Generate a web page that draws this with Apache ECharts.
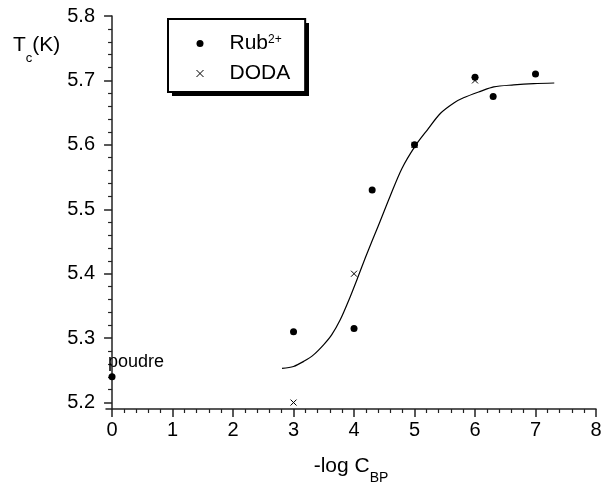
<!DOCTYPE html>
<html>
<head>
<meta charset="utf-8">
<script src="https://cdn.jsdelivr.net/npm/echarts@6/dist/echarts.min.js"></script>
<style>
  html, body { margin: 0; padding: 0; background: #fff; }
  #chart { width: 601px; height: 484px; }
</style>
</head>
<body>
<div id="chart"></div>
<script>
// Rub2+ points (filled dots)
const rubX = [0, 3, 4, 4.3, 5, 6, 6.3, 7]
const rubY = [5.24, 5.31, 5.315, 5.53, 5.6, 5.705, 5.675, 5.71]
const rubLabels = ['poudre', '', '', '', '', '', '', '']

// DODA points (crosses)
const dodaX = [3, 4, 5, 6]
const dodaY = [5.2, 5.4, 5.6, 5.7]

// fitted curve
const fitX = [2.81, 3.0, 3.17, 3.33, 3.5, 3.63, 3.77, 3.91, 4.07, 4.2, 4.4, 4.6, 4.79, 5.01, 5.21, 5.43, 5.65, 5.81, 6.09, 6.31, 6.64, 6.97, 7.31]
const fitY = [5.253, 5.256, 5.264, 5.274, 5.290, 5.305, 5.328, 5.358, 5.396, 5.428, 5.474, 5.521, 5.563, 5.598, 5.623, 5.649, 5.665, 5.673, 5.683, 5.690, 5.693, 5.695, 5.696]

// ticks
const xTicks = [0, 1, 2, 3, 4, 5, 6, 7, 8]
const yTicks = [5.2, 5.3, 5.4, 5.5, 5.6, 5.7, 5.8]
const xMinor = []
for (let i = 0; i < 40; i++) if (i % 5) xMinor.push(+(i * 0.2).toFixed(2))
const yMinor = []
for (let i = 0; i < 30; i++) if (i % 5) yMinor.push(+(5.2 + i * 0.02).toFixed(2))

const font = 'Liberation Sans, Arial, sans-serif'
const axisColor = '#222'
const cross = 'path://M0,0L10,10M10,0L0,10'

const chart = echarts.init(document.getElementById('chart'))

function xAxisBase(extra) {
  return Object.assign({
    type: 'value',
    position: 'bottom',
    offset: 0,
    min: -0.1,
    max: 8,
    splitLine: { show: false },
  }, extra)
}
function yAxisBase(extra) {
  return Object.assign({
    type: 'value',
    position: 'left',
    offset: 0,
    min: 5.19,
    max: 5.8,
    splitLine: { show: false },
  }, extra)
}

chart.setOption({
  animation: false,
  grid: { left: 106, right: 5, top: 16, bottom: 75, containLabel: false, outerBoundsMode: 'none' },
  xAxis: [
    xAxisBase({
      name: '{a|-log C}{s|BP}',
      nameLocation: 'middle',
      nameGap: 47,
      nameTextStyle: {
        rich: {
          a: { fontFamily: font, fontSize: 21, lineHeight: 20, verticalAlign: 'top', color: '#000' },
          s: { fontFamily: font, fontSize: 14, lineHeight: 29, verticalAlign: 'bottom', color: '#000' },
        },
      },
      axisLine: { show: true, lineStyle: { color: axisColor, width: 1.5 } },
      axisTick: { show: true, inside: false, length: 8, customValues: xTicks, lineStyle: { color: axisColor, width: 1.5 } },
      axisLabel: { customValues: xTicks, margin: 11, fontFamily: font, fontSize: 20, color: '#000' },
    }),
    xAxisBase({
      axisLine: { show: false },
      axisTick: { show: true, inside: false, length: 4, customValues: xMinor, lineStyle: { color: axisColor, width: 1.2 } },
      axisLabel: { show: false },
    }),
  ],
  yAxis: [
    yAxisBase({
      axisLine: { show: true, lineStyle: { color: axisColor, width: 1.5 } },
      axisTick: { show: true, inside: false, length: 8, customValues: yTicks, lineStyle: { color: axisColor, width: 1.5 } },
      axisLabel: {
        customValues: yTicks, margin: 11, fontFamily: font, fontSize: 20, color: '#000',
        formatter: (v) => v.toFixed(1),
      },
    }),
    yAxisBase({
      axisLine: { show: false },
      axisTick: { show: true, inside: false, length: 4, customValues: yMinor, lineStyle: { color: axisColor, width: 1.2 } },
      axisLabel: { show: false },
    }),
  ],
  legend: {
    orient: 'vertical',
    left: 168,
    top: 19,
    z: 5,
    padding: [14, 15, 8, 28],
    itemGap: 9,
    itemWidth: 7,
    itemHeight: 7,
    backgroundColor: '#fff',
    borderColor: '#000',
    borderWidth: 2,
    data: [
      { name: 'Rub', icon: 'circle', itemStyle: { color: '#000', opacity: 1 } },
      { name: 'DODA', icon: cross, itemStyle: { color: 'transparent', borderColor: '#000', borderWidth: 1, opacity: 1 } },
    ],
    formatter: (name) => name === 'Rub' ? '{a|Rub}{s|2+}' : '{a|DODA}',
    textStyle: {
      padding: [0, 0, 0, 21],
      rich: {
        a: { fontFamily: font, fontSize: 21, lineHeight: 20, color: '#000' },
        s: { fontFamily: font, fontSize: 12, lineHeight: 12, verticalAlign: 'top', color: '#000' },
      },
    },
  },
  graphic: [
    // drop shadow behind the legend box
    {
      type: 'rect',
      z: 1,
      shape: { x: 172, y: 23, width: 137, height: 73 },
      style: { fill: '#000' },
    },
    {
      type: 'text',
      left: 13,
      top: 35,
      style: {
        text: '{a|T}{s|c}{a|(K)}',
        rich: {
          a: { fontFamily: font, fontSize: 21, lineHeight: 22, verticalAlign: 'top', fill: '#000' },
          s: { fontFamily: font, fontSize: 13, lineHeight: 30, verticalAlign: 'bottom', fill: '#000' },
        },
      },
    },
  ],
  series: [
    {
      name: 'fit',
      type: 'line',
      data: fitX.map((x, i) => [x, fitY[i]]),
      smooth: 0.3,
      showSymbol: false,
      lineStyle: { color: '#000', width: 1.2 },
      silent: true,
    },
    {
      name: 'Rub',
      type: 'scatter',
      symbol: 'circle',
      symbolSize: 7,
      itemStyle: { color: '#000', opacity: 1 },
      data: rubX.map((x, i) => ({
        value: [x, rubY[i]],
        label: {
          show: rubLabels[i] !== '',
          formatter: rubLabels[i],
          position: 'top',
          distance: 2,
          offset: [24, 0],
          fontFamily: font,
          fontSize: 18,
          color: '#000',
        },
      })),
    },
    {
      name: 'DODA',
      type: 'scatter',
      symbol: cross,
      symbolSize: 6,
      itemStyle: { color: 'transparent', borderColor: '#000', borderWidth: 1, opacity: 1 },
      data: dodaX.map((x, i) => [x, dodaY[i]]),
    },
  ],
})
</script>
</body>
</html>
